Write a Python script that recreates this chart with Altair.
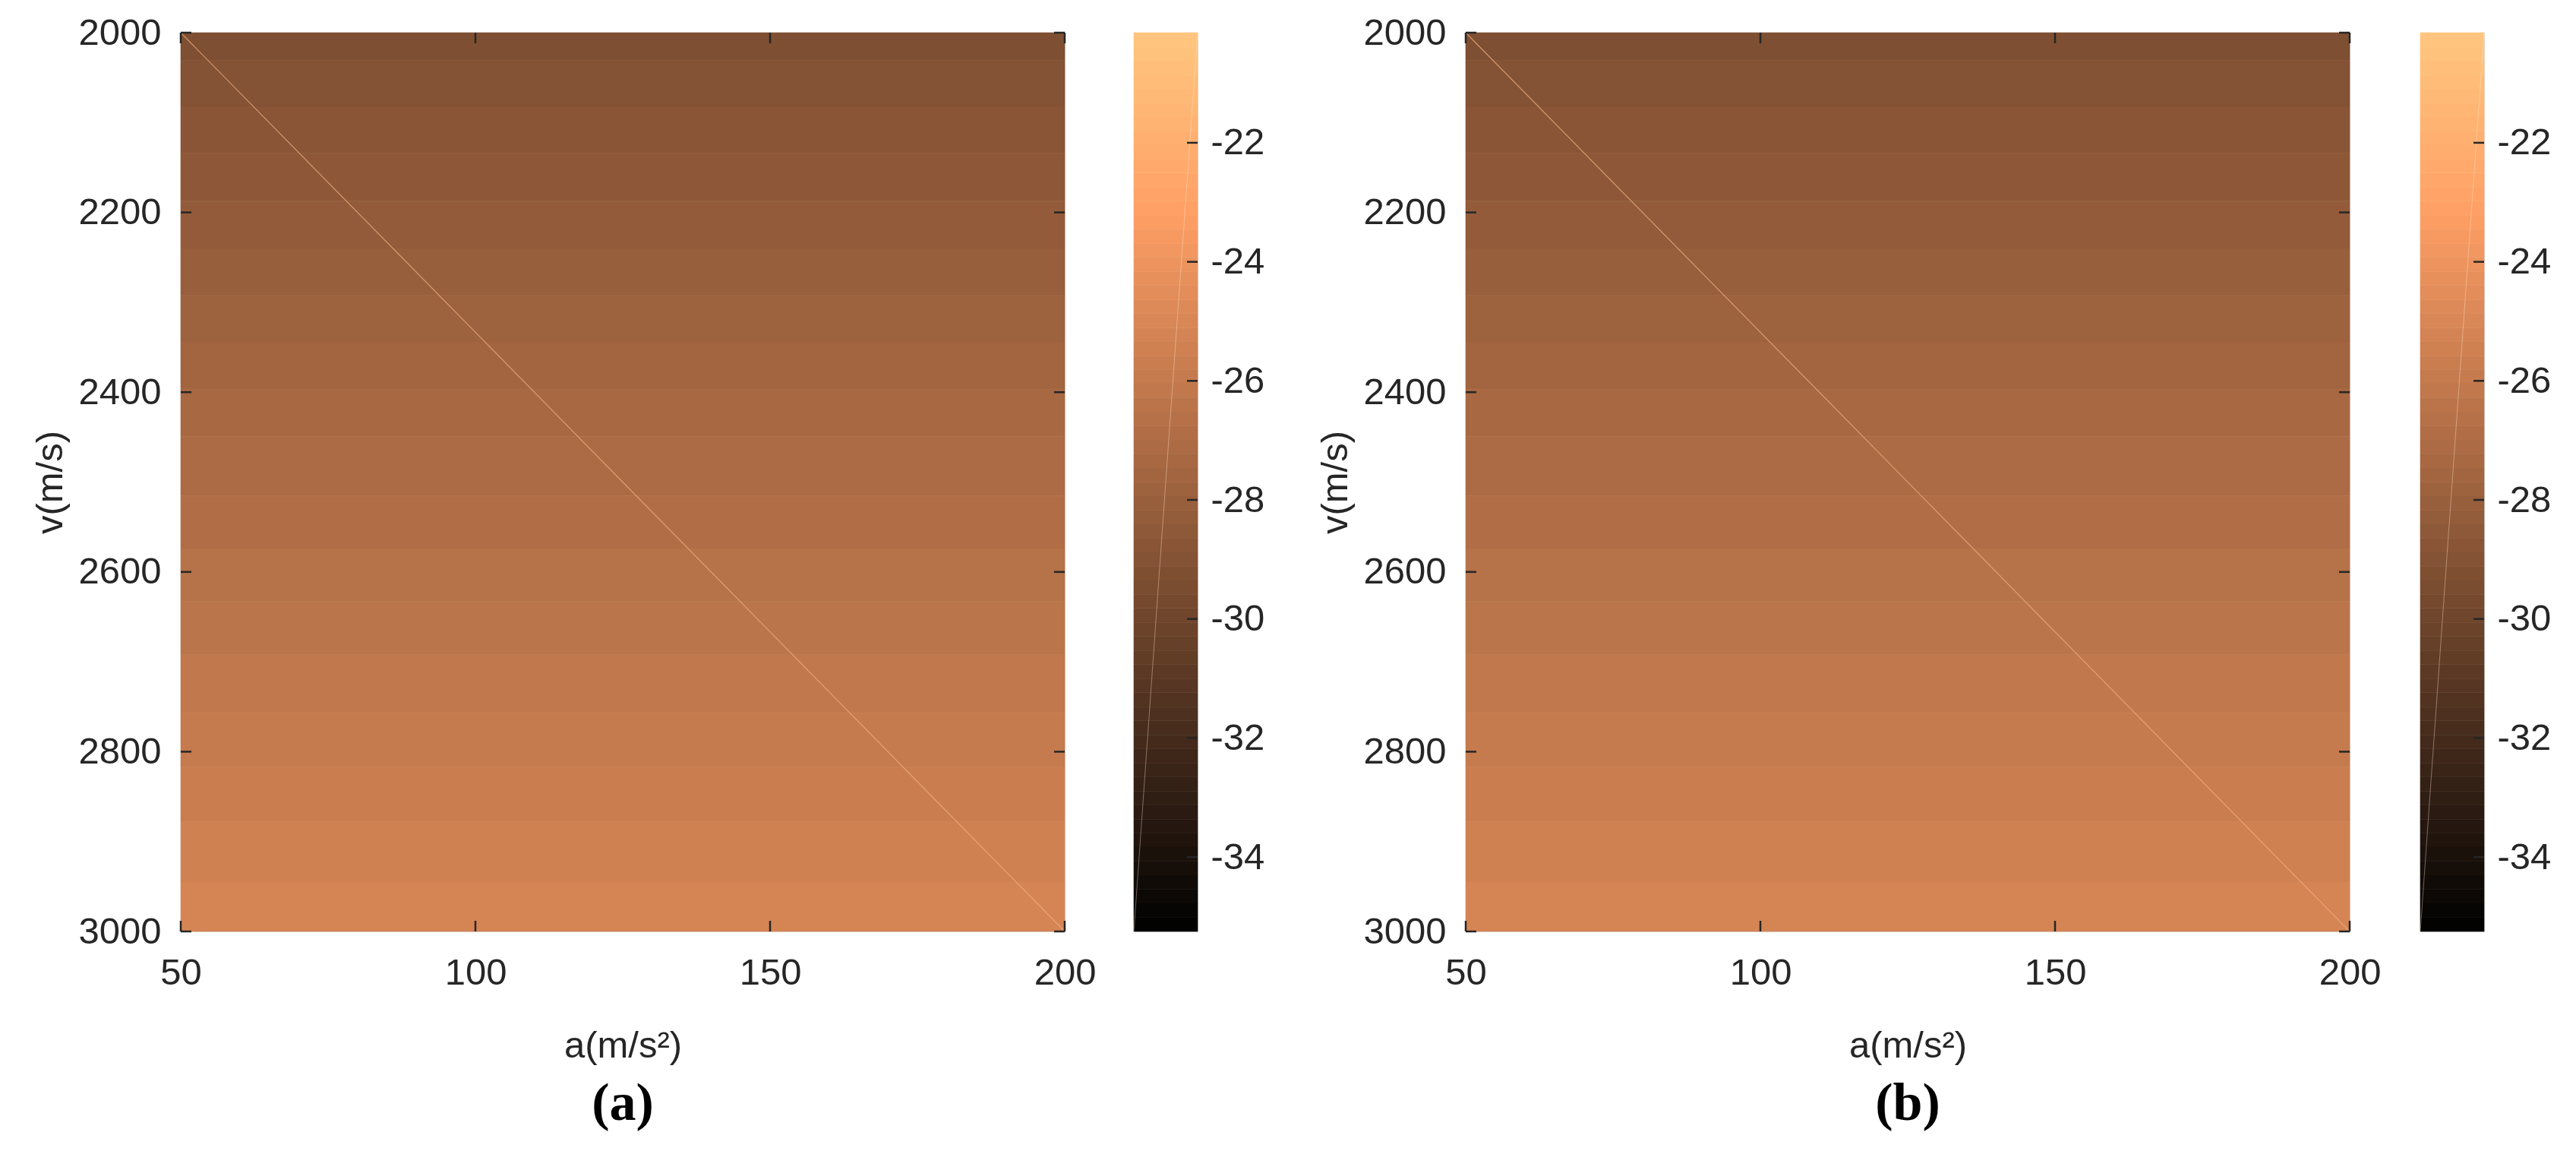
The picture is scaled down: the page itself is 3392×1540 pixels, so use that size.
import altair as alt
import pandas as pd
import numpy as np

# ---------------- data ----------------
a_range = [50, 200]
# band edges along v (m/s) and the value (dB) of each colour band
v_edges = [2000, 2031, 2082, 2134, 2187, 2240, 2292, 2344, 2397, 2449,
           2515, 2574, 2633, 2692, 2757, 2817, 2878, 2945, 3000]
band_vals_a = [-29.26, -29.02, -28.78, -28.54, -28.30, -28.06, -27.82, -27.58, -27.34,
               -27.10, -26.86, -26.62, -26.38, -26.14, -25.90, -25.66, -25.42, -25.18]
band_vals_b = [-29.26, -29.02, -28.78, -28.54, -28.30, -28.06, -27.82, -27.58, -27.34,
               -27.10, -26.86, -26.62, -26.38, -26.14, -25.90, -25.66, -25.42, -25.18]
diag_a = [50, 200]
diag_v = [2000, 3000]
x_ticks = [50, 100, 150, 200]
y_ticks = [2000, 2200, 2400, 2600, 2800, 3000]
cbar_ticks = [-34, -32, -30, -28, -26, -24, -22]
c_min, c_max = -35.25, -20.15
panel_labels = ["(a)", "(b)"]

# ---------------- styling ----------------
W, H = 1164, 1183
CW = 84
TK = 14
FONT = "Liberation Sans"
INK = "#262626"
FS = 49

rng = c_max - c_min
color_scale = alt.Scale(domain=[c_min, c_min + 0.8 * rng, c_max],
                        range=["#000000", "#ff9f65", "#ffc77f"], interpolate="rgb")

xs = alt.Scale(domain=a_range, nice=False, zero=False)
ys = alt.Scale(domain=[2000, 3000], reverse=True, nice=False, zero=False)

xaxis = alt.Axis(values=x_ticks, title="a(m/s²)", format="d", domain=False, ticks=False, grid=False,
                 labelFont=FONT, labelFontSize=FS, labelColor=INK, labelPadding=30,
                 titleFont=FONT, titleFontSize=FS, titleColor=INK, titleFontWeight="normal",
                 titleY=150, titleBaseline="middle", labelFlush=False)
yaxis = alt.Axis(values=y_ticks, title="v(m/s)", format="d", domain=False, ticks=False, grid=False,
                 labelFont=FONT, labelFontSize=FS, labelColor=INK, labelPadding=26,
                 titleFont=FONT, titleFontSize=FS, titleColor=INK, titleFontWeight="normal",
                 titleX=-172, titleBaseline="middle", labelFlush=False)


def panel(vals, label):
    bands = pd.DataFrame({"v0": v_edges[:-1], "v1": v_edges[1:],
                          "a0": a_range[0], "a1": a_range[1], "val": vals})
    rect = alt.Chart(bands).mark_rect(strokeWidth=0.6).encode(
        x=alt.X("a0:Q", scale=xs, axis=xaxis),
        x2="a1:Q",
        y=alt.Y("v0:Q", scale=ys, axis=yaxis),
        y2="v1:Q",
        color=alt.Color("val:Q", scale=color_scale, legend=None),
        stroke=alt.Stroke("val:Q", scale=color_scale, legend=None),
    )
    diag = alt.Chart(pd.DataFrame({"a0": diag_a, "v0": diag_v})).mark_line(
        color="#f0b080", strokeWidth=1.2, opacity=0.75).encode(
        x=alt.X("a0:Q", scale=xs, axis=xaxis),
        y=alt.Y("v0:Q", scale=ys, axis=yaxis),
    )
    xt = pd.DataFrame({"a0": x_ticks})
    yt = pd.DataFrame({"v0": y_ticks})
    tb = alt.Chart(xt).mark_rule(color=INK, strokeWidth=2.5).encode(
        x=alt.X("a0:Q", scale=xs, axis=xaxis), y=alt.value(H), y2=alt.value(H - TK))
    tt = alt.Chart(xt).mark_rule(color=INK, strokeWidth=2.5).encode(
        x=alt.X("a0:Q", scale=xs, axis=xaxis), y=alt.value(0), y2=alt.value(TK))
    tl = alt.Chart(yt).mark_rule(color=INK, strokeWidth=2.5).encode(
        y=alt.Y("v0:Q", scale=ys, axis=yaxis), x=alt.value(0), x2=alt.value(TK))
    tr = alt.Chart(yt).mark_rule(color=INK, strokeWidth=2.5).encode(
        y=alt.Y("v0:Q", scale=ys, axis=yaxis), x=alt.value(W), x2=alt.value(W - TK))
    return alt.layer(rect, diag, tb, tt, tl, tr).properties(
        width=W, height=H,
        title=alt.TitleParams(label, orient="bottom", font="Liberation Serif", fontSize=70,
                              fontWeight="bold", color="#000000", frame="group",
                              anchor="middle", offset=18),
    )


def colorbar():
    k = np.arange(64)
    cb = pd.DataFrame({"lo": c_min + k * rng / 64, "hi": c_min + (k + 1) * rng / 64,
                       "mid": c_min + (k + 0.5) * rng / 64, "x0": 0.0, "x1": 1.0})
    cxs = alt.Scale(domain=[0, 1], nice=False, zero=False)
    cys = alt.Scale(domain=[c_min, c_max], nice=False, zero=False)
    caxis = alt.Axis(orient="right", values=cbar_ticks, title=None, domain=False, ticks=False,
                     grid=False, labelFont=FONT, labelFontSize=FS, labelColor=INK,
                     labelPadding=17, labelFlush=False,
                     labelExpr="datum.value < 0 ? '-' + abs(datum.value) : '' + datum.value")
    r = alt.Chart(cb).mark_rect(strokeWidth=0.6).encode(
        x=alt.X("x0:Q", scale=cxs, axis=None), x2="x1:Q",
        y=alt.Y("lo:Q", scale=cys, axis=caxis), y2="hi:Q",
        color=alt.Color("mid:Q", scale=color_scale, legend=None),
        stroke=alt.Stroke("mid:Q", scale=color_scale, legend=None),
    )
    d = alt.Chart(pd.DataFrame({"x0": [0.0, 1.0], "lo": [c_min, c_max]})).mark_line(
        color="#ffe9d2", strokeWidth=1, opacity=0.4).encode(
        x=alt.X("x0:Q", scale=cxs, axis=None), y=alt.Y("lo:Q", scale=cys, axis=caxis))
    t = alt.Chart(pd.DataFrame({"lo": cbar_ticks})).mark_rule(color=INK, strokeWidth=2.5).encode(
        y=alt.Y("lo:Q", scale=cys, axis=caxis), x=alt.value(CW), x2=alt.value(CW - TK))
    return alt.layer(r, d, t).properties(width=CW, height=H)


left = alt.hconcat(panel(band_vals_a, panel_labels[0]), colorbar(), spacing=46)
right = alt.hconcat(panel(band_vals_b, panel_labels[1]), colorbar(), spacing=48)
chart = alt.hconcat(left, right, spacing=67).properties(
    padding={"left": 33, "top": 10, "right": 10, "bottom": 10}
).configure_view(stroke=INK, strokeWidth=2.5).configure(background="white")

chart.save("out.html", embed_options={"renderer": "svg", "actions": False})
